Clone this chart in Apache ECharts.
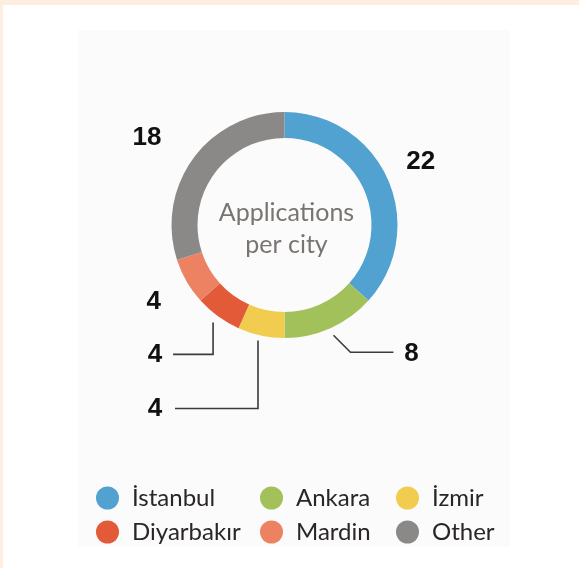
<!DOCTYPE html>
<html>
<head>
<meta charset="utf-8">
<script src="https://cdn.jsdelivr.net/npm/echarts@6/dist/echarts.min.js"></script>
<style>
  html, body { margin: 0; padding: 0; background: #ffffff; }
  #wrap { position: relative; width: 579px; height: 568px; overflow: hidden; }
  #bandTop { position: absolute; left: 0; top: 0; width: 579px; height: 5px; background: #fdeedf; }
  #bandLeft { position: absolute; left: 0; top: 0; width: 3px; height: 568px; background: #fdeedf; }
  #panel { position: absolute; left: 78px; top: 30px; width: 432px; height: 517px; background: #fbfbfb; }
  #chart { position: absolute; left: 0; top: 0; width: 579px; height: 568px; }
</style>
</head>
<body>
<div id="wrap">
  <div id="bandTop"></div>
  <div id="bandLeft"></div>
  <div id="panel"></div>
  <div id="chart"></div>
</div>
<script>
// data
const cities = ['İstanbul', 'Ankara', 'İzmir', 'Diyarbakır', 'Mardin', 'Other'];
const applications = [22, 8, 4, 4, 4, 18];
const centerTitle = 'Applications\nper city';

// styles
const cityColors = ['#51a2d1', '#a2c15a', '#f2cc4f', '#e25a37', '#ec8262', '#8b8988'];
const cx = 284.5, cy = 225, rInner = 87, rOuter = 113;
// label centre, offset from the outer edge at each slice's mid angle
const labelOffsets = [[33, -17], [81, 26], [-106, 73], [-63, 38], [-33, 20], [-46, -21]];
// leader lines, same reference point
const leaderOffsets = [
    null,
    [[3, 7], [20, 24], [63, 24]],
    [[-3, 5], [-3, 73], [-86, 73]],
    [[-5, 6], [-5, 38], [-45, 38]],
    null,
    null
];

const total = applications.reduce((a, b) => a + b, 0);

function edgePoint(i) {
    let before = 0;
    for (let k = 0; k < i; k++) before += applications[k];
    const mid = (before + applications[i] / 2) / total * 2 * Math.PI;
    return [cx + rOuter * Math.sin(mid), cy - rOuter * Math.cos(mid)];
}

let chart = echarts.init(document.getElementById('chart'));

let leaders = [];
leaderOffsets.forEach((pts, i) => {
    if (!pts) return;
    const e = edgePoint(i);
    leaders.push({
        type: 'polyline',
        silent: true,
        shape: { points: pts.map(p => [e[0] + p[0], e[1] + p[1]]) },
        style: { stroke: '#3b3b3b', lineWidth: 1.6, fill: null }
    });
});

let legendStyle = {
    orient: 'vertical',
    top: 481,
    icon: 'circle',
    itemWidth: 23,
    itemHeight: 23,
    itemGap: 10,
    selectedMode: false,
    textStyle: {
        fontFamily: 'Lato',
        fontSize: 24,
        lineHeight: 23,
        color: '#2a2627',
        padding: [0, 0, 0, 8]
    }
};

let option = {
    backgroundColor: 'transparent',
    animation: false,
    title: {
        text: centerTitle,
        left: cx - 3,
        top: cy - 1,
        textAlign: 'center',
        textVerticalAlign: 'middle',
        textStyle: {
            fontFamily: 'Lato',
            fontWeight: 'normal',
            fontSize: 25,
            lineHeight: 32,
            color: '#7a7471'
        }
    },
    legend: [
        Object.assign({ left: 91, data: [cities[0], cities[3]] }, legendStyle),
        Object.assign({ left: 255, data: [cities[1], cities[4]] }, legendStyle),
        Object.assign({ left: 391, data: [cities[2], cities[5]] }, legendStyle)
    ],
    graphic: leaders,
    series: [
        {
            type: 'pie',
            center: [cx, cy],
            radius: [rInner, rOuter],
            startAngle: 90,
            clockwise: true,
            avoidLabelOverlap: false,
            data: cities.map((c, i) => ({
                name: c,
                value: applications[i],
                itemStyle: { color: cityColors[i] }
            })),
            label: {
                show: true,
                formatter: '{c}',
                fontFamily: 'Liberation Sans',
                fontWeight: 'bold',
                fontSize: 26,
                color: '#111111'
            },
            labelLine: { show: false },
            labelLayout: function (params) {
                const e = edgePoint(params.dataIndex);
                const o = labelOffsets[params.dataIndex];
                return {
                    x: e[0] + o[0],
                    y: e[1] + o[1],
                    align: 'center',
                    verticalAlign: 'middle'
                };
            },
            emphasis: { disabled: true }
        }
    ]
};

chart.setOption(option);
</script>
</body>
</html>
